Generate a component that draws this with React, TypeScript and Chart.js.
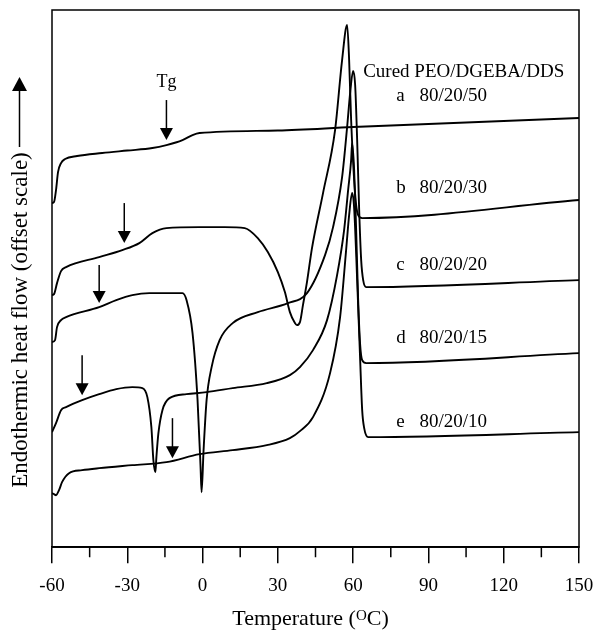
import React, { useEffect, useRef } from 'react';
import { Chart, registerables } from 'chart.js';

Chart.register(...registerables);

const SERIF = '"Liberation Serif", "Times New Roman", serif';

// x axis
const xMajorTicks = [-60, -30, 0, 30, 60, 90, 120, 150];
const xMinorTicks = [-45, -15, 15, 45, 75, 105, 135];

// curve a 80/20/50
const aTemp = [-60, -59.2, -58.4, -57.6, -56.4, -54.8, -50, -40, -30, -20, -14.4, -8, -4, -1.2, 30, 60, 90, 120, 150];
const aFlow = [68.8, 69.0, 71.4, 75.0, 76.8, 77.6, 78.2, 78.8, 79.3, 79.8, 80.4, 81.4, 82.4, 82.8, 83.3, 84.0, 84.6, 85.2, 85.8];

// curve b 80/20/30
const bTemp = [-60, -59.2, -58, -56.4, -54.4, -41.2, -32, -25.2, -20, -14.4, -1.2, 8.8, 16.8, 22, 26, 30, 32.8, 34.8, 36.8, 37.6, 38.8, 40, 41.6, 43.6, 48, 52.8, 55.6, 57.6, 58.4, 59.2, 60.4, 61.2, 62, 63.6, 150];
const bFlow = [50.4, 50.6, 52.8, 55.2, 56, 58, 59.4, 60.8, 62.8, 63.8, 64, 64, 63.8, 61.8, 59, 55, 51, 47, 44.8, 44.4, 45, 48.4, 53, 59.8, 70.8, 83.4, 97.4, 104.4, 97.4, 85.4, 73.4, 68.4, 66.4, 65.8, 69.4];

// curve c 80/20/20
const cTemp = [-60, -58.8, -58, -56.4, -54.4, -41.2, -34.4, -28, -21.2, -8, -6.4, -4, -2, -0.8, -0.4, 0.4, 1.6, 3.6, 6.8, 12, 22, 34, 41.6, 48.8, 52, 55.6, 57.6, 58.8, 60, 60.8, 61.6, 62.4, 63.2, 64, 65.2, 150];
const cFlow = [41, 41.4, 44, 45.4, 46, 48, 49.4, 50.4, 50.8, 50.8, 49.4, 42.8, 29.4, 16, 11, 19.4, 29.4, 36, 41.4, 44.8, 47, 48.8, 50.8, 58.4, 64, 74, 84, 90.8, 95.2, 92.4, 81.4, 67.4, 57.4, 53.4, 52, 53.4];

// curve d 80/20/15
const dTemp = [-60, -58.4, -56.4, -54.4, -48, -41.2, -34.4, -28, -24, -22, -20.4, -19.6, -18.8, -18.4, -17.6, -16, -13.2, -6.4, 1.6, 12, 25.6, 34.8, 38.8, 44, 49.6, 53.6, 56.4, 58, 59.2, 59.6, 60.4, 61.2, 62, 62.8, 63.6, 65.2, 150];
const dFlow = [23, 24.8, 27.4, 28, 29.4, 30.6, 31.6, 32, 31.8, 30, 24, 17.4, 15, 18, 22.8, 27.4, 29.8, 30.6, 31, 31.8, 32.8, 34.4, 36, 39.4, 45.4, 54.4, 63.4, 71.4, 77.4, 80.8, 75.4, 63.4, 49.4, 40.4, 37.4, 36.8, 38.8];

// curve e 80/20/10
const eTemp = [-60, -59.2, -58.4, -57.2, -56, -53.2, -48, -41.2, -28, -14.4, -1.2, 12, 25.6, 34.8, 38.8, 44, 50.8, 54.8, 57.2, 58.4, 59.6, 60.4, 61.6, 62.8, 63.6, 64.4, 66, 150];
const eFlow = [10.8, 10.6, 10.4, 11.4, 13, 14.8, 15.4, 15.8, 16.4, 17, 18.6, 19.4, 20.4, 21.8, 23.2, 26, 34.8, 46, 59.4, 66.4, 70.8, 67.8, 53.4, 37.4, 27.4, 23.8, 22, 23];

// series labels
const seriesLetters = ['a', 'b', 'c', 'd', 'e'];
const seriesNames = ['80/20/50', '80/20/30', '80/20/20', '80/20/15', '80/20/10'];
const labelFlow = [90.2, 71.8, 56.4, 41.8, 25];
const letterTemp = 77.2;
const nameTemp = 86.4;
const legendTitle = 'Cured PEO/DGEBA/DDS';
const legendTitleTemp = 64;
const legendTitleFlow = 95.1;

// Tg arrows
const arrowTemp = [-14.4, -31.2, -41.2, -48, -12];
const arrowTop = [89.4, 68.8, 56.4, 38.4, 25.8];
const arrowTip = [81.4, 60.8, 48.8, 30.4, 17.8];
const tgLabel = 'Tg';
const tgTemp = -14.4;
const tgFlow = 93;

const yTitle = 'Endothermic heat flow (offset scale)';

const zip = (t: number[], f: number[]) => t.map((v, i) => ({ x: v, y: f[i] }));

const overlayPlugin = {
  id: 'overlay',
  afterDraw(chart: any) {
    const { ctx, chartArea: ca, scales } = chart;
    const x = scales.x;
    const y = scales.y;
    ctx.save();
    ctx.strokeStyle = '#000';
    ctx.fillStyle = '#000';
    ctx.lineWidth = 1.5;
    // frame
    ctx.strokeRect(ca.left, ca.top, ca.right - ca.left, ca.bottom - ca.top);
    // minor ticks
    ctx.beginPath();
    xMinorTicks.forEach((t) => {
      const px = x.getPixelForValue(t);
      ctx.moveTo(px, ca.bottom);
      ctx.lineTo(px, ca.bottom + 10);
    });
    ctx.stroke();
    // arrows
    arrowTemp.forEach((t, i) => {
      const px = x.getPixelForValue(t);
      const top = y.getPixelForValue(arrowTop[i]);
      const tip = y.getPixelForValue(arrowTip[i]);
      ctx.beginPath();
      ctx.moveTo(px, top);
      ctx.lineTo(px, tip - 8);
      ctx.stroke();
      ctx.beginPath();
      ctx.moveTo(px - 6.5, tip - 12);
      ctx.lineTo(px + 6.5, tip - 12);
      ctx.lineTo(px, tip);
      ctx.closePath();
      ctx.fill();
    });
    // Tg label
    ctx.font = `18px ${SERIF}`;
    ctx.textAlign = 'center';
    ctx.textBaseline = 'middle';
    ctx.fillText(tgLabel, x.getPixelForValue(tgTemp), y.getPixelForValue(tgFlow));
    // legend labels
    ctx.font = `19px ${SERIF}`;
    ctx.textAlign = 'left';
    ctx.fillText(legendTitle, x.getPixelForValue(legendTitleTemp), y.getPixelForValue(legendTitleFlow));
    seriesLetters.forEach((s, i) => {
      const py = y.getPixelForValue(labelFlow[i]);
      ctx.fillText(s, x.getPixelForValue(letterTemp), py);
      ctx.fillText(seriesNames[i], x.getPixelForValue(nameTemp), py);
    });
    // x title with superscript
    const main = 'Temperature (';
    const sup = 'O';
    const tail = 'C)';
    ctx.font = `22px ${SERIF}`;
    const w1 = ctx.measureText(main).width;
    const w3 = ctx.measureText(tail).width;
    ctx.font = `15px ${SERIF}`;
    const w2 = ctx.measureText(sup).width;
    const total = w1 + w2 + w3;
    const cx = (ca.left + ca.right) / 2 - 5;
    let sx = cx - total / 2;
    const by = 625;
    ctx.textBaseline = 'alphabetic';
    ctx.font = `22px ${SERIF}`;
    ctx.fillText(main, sx, by);
    sx += w1;
    ctx.font = `15px ${SERIF}`;
    ctx.fillText(sup, sx, by - 5);
    sx += w2;
    ctx.font = `22px ${SERIF}`;
    ctx.fillText(tail, sx, by);
    // y title, rotated
    ctx.save();
    ctx.translate(27, 320);
    ctx.rotate(-Math.PI / 2);
    ctx.font = `23px ${SERIF}`;
    ctx.textAlign = 'center';
    ctx.textBaseline = 'alphabetic';
    ctx.fillText(yTitle, 0, 0);
    ctx.restore();
    // y title arrow
    ctx.lineWidth = 1.5;
    ctx.beginPath();
    ctx.moveTo(19.5, 147);
    ctx.lineTo(19.5, 88);
    ctx.stroke();
    ctx.beginPath();
    ctx.moveTo(12, 91);
    ctx.lineTo(27, 91);
    ctx.lineTo(19.5, 77);
    ctx.closePath();
    ctx.fill();
    ctx.restore();
  },
};

export default function App() {
  const ref = useRef<HTMLCanvasElement | null>(null);
  useEffect(() => {
    if (!ref.current) return;
    const mk = (t: number[], f: number[]) => ({
      data: zip(t, f),
      borderColor: '#000',
      borderWidth: 1.9,
      pointRadius: 0,
      fill: false,
      cubicInterpolationMode: 'monotone' as const,
    });
    const chart = new Chart(ref.current, {
      type: 'line',
      data: {
        datasets: [mk(aTemp, aFlow), mk(bTemp, bFlow), mk(cTemp, cFlow), mk(dTemp, dFlow), mk(eTemp, eFlow)],
      },
      options: {
        animation: false,
        responsive: false,
        maintainAspectRatio: false,
        events: [],
        layout: { padding: { left: 52, right: 17, top: 10, bottom: 22 } },
        plugins: { legend: { display: false }, tooltip: { enabled: false } },
        scales: {
          x: {
            type: 'linear',
            min: -60,
            max: 150,
            afterBuildTicks: (scale: any) => {
              scale.ticks = xMajorTicks.map((v) => ({ value: v }));
            },
            afterFit: (scale: any) => {
              scale.paddingLeft = 0;
              scale.paddingRight = 0;
            },
            border: { display: true, color: '#000', width: 1.5 },
            grid: { drawOnChartArea: false, drawTicks: true, tickLength: 16, color: '#000', lineWidth: 1.5 },
            ticks: {
              color: '#000',
              font: { family: SERIF, size: 19 },
              padding: 11,
              maxRotation: 0,
              autoSkip: false,
            },
          },
          y: {
            type: 'linear',
            min: 0,
            max: 107.4,
            display: false,
          },
        },
      },
      plugins: [overlayPlugin],
    });
    return () => chart.destroy();
  }, []);
  return (
    <div style={{ position: 'fixed', left: 0, top: 0, width: 596, height: 630, background: '#fff' }}>
      <canvas ref={ref} width={596} height={630} style={{ width: 596, height: 630, display: 'block' }} />
    </div>
  );
}
